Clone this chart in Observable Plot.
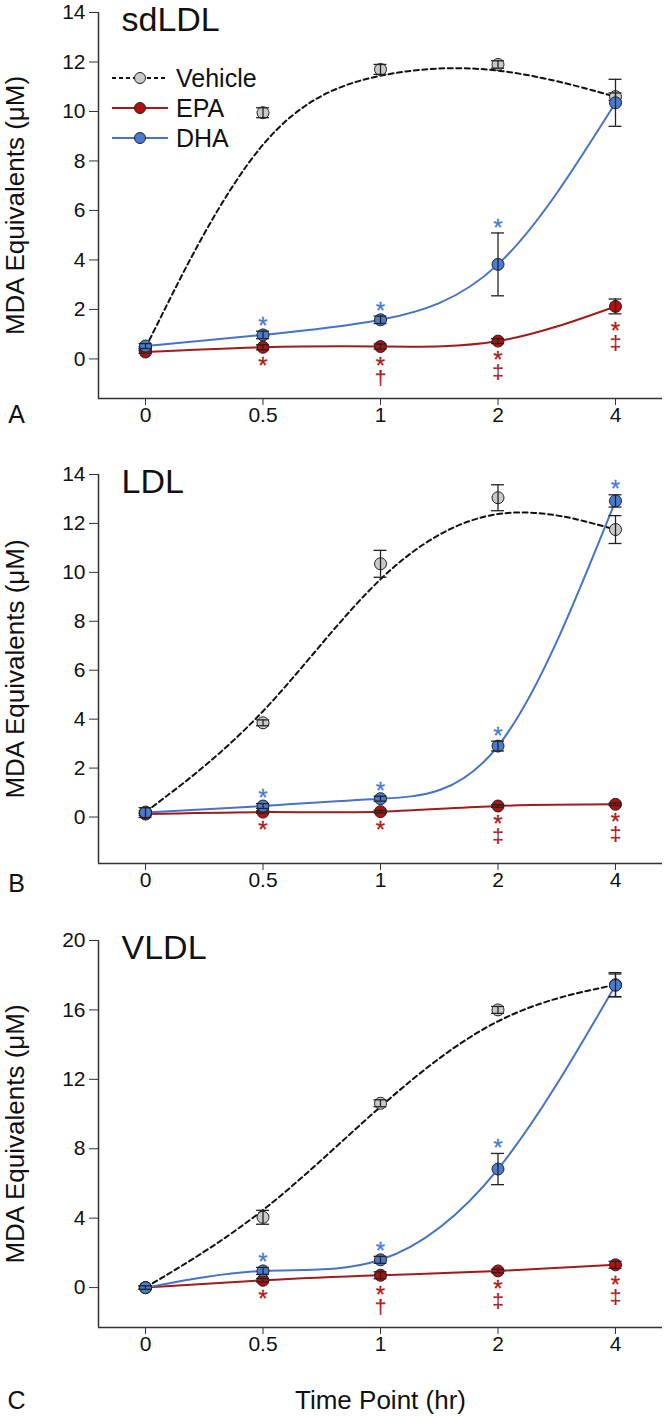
<!DOCTYPE html>
<html><head><meta charset="utf-8">
<script src="https://cdn.jsdelivr.net/npm/d3@7"></script>
<script src="https://cdn.jsdelivr.net/npm/@observablehq/plot@0.6"></script>
<style>
body{margin:0;background:#fff;font-family:"Liberation Sans",Arial,sans-serif;}
#wrap{position:relative;width:664px;height:1417px;overflow:hidden;}
.panel{position:absolute;left:0;}
.leg{position:absolute;left:111px;height:30px;display:flex;align-items:center;font-size:25px;color:#111;font-family:"Liberation Sans",Arial,sans-serif;}
.leg svg{margin-right:7px;}
</style></head><body><div id="wrap"></div>
<script>
// ---- data ----
const timeLabels = ["0", "0.5", "1", "2", "4"];
const seriesNames = ["Vehicle", "EPA", "DHA"];
const panelNames = ["sdLDL", "LDL", "VLDL"];
const panelLetters = ["A", "B", "C"];

// sdLDL
const sdldlVehicle = [0.45, 9.95, 11.7, 11.9, 10.6];
const sdldlVehicleErr = [0.05, 0.2, 0.2, 0.15, 0.15];
const sdldlEPA = [0.28, 0.47, 0.5, 0.72, 2.12];
const sdldlEPAErr = [0.05, 0.1, 0.1, 0.1, 0.3];
const sdldlDHA = [0.52, 0.97, 1.58, 3.82, 10.35];
const sdldlDHAErr = [0.1, 0.15, 0.15, 1.27, 0.95];
const sdldlDHASig = ["", "*", "*", "*", ""];
const sdldlEPASig = ["", "*", "*", "*", "*"];
const sdldlEPASig2 = ["", "", "†", "‡", "‡"];

// LDL
const ldlVehicle = [0.2, 3.85, 10.35, 13.05, 11.75];
const ldlVehicleErr = [0.05, 0.12, 0.55, 0.53, 0.57];
const ldlEPA = [0.12, 0.2, 0.22, 0.45, 0.52];
const ldlEPAErr = [0.05, 0.05, 0.05, 0.05, 0.05];
const ldlDHA = [0.18, 0.45, 0.75, 2.9, 12.92];
const ldlDHAErr = [0.2, 0.1, 0.1, 0.2, 0.25];
const ldlDHASig = ["", "*", "*", "*", "*"];
const ldlEPASig = ["", "*", "*", "*", "*"];
const ldlEPASig2 = ["", "", "", "‡", "‡"];

// VLDL
const vldlVehicle = [0, 4.05, 10.62, 16.0, 17.45];
const vldlVehicleErr = [0.1, 0.4, 0.2, 0.2, 0.7];
const vldlEPA = [0, 0.42, 0.71, 0.96, 1.31];
const vldlEPAErr = [0.05, 0.1, 0.2, 0.1, 0.2];
const vldlDHA = [0, 0.96, 1.6, 6.83, 17.42];
const vldlDHAErr = [0.1, 0.2, 0.2, 0.9, 0.65];
const vldlDHASig = ["", "*", "*", "*", ""];
const vldlEPASig = ["", "*", "*", "*", "*"];
const vldlEPASig2 = ["", "", "†", "‡", "‡"];

const yTicksAB = [0, 2, 4, 6, 8, 10, 12, 14];
const yTicksC = [0, 4, 8, 12, 16, 20];

// ---- styles ----
const FONT = "Liberation Sans, Arial, Helvetica, sans-serif";
const C_VEH = "#c9c9c9", C_EPA = "#b30f0f", C_EPA_LINE = "#a31a1a", C_DHA = "#4a7bd2", C_DHA_LINE = "#4673c8";
const C_STAR_B = "#4a7bd0", C_STAR_R = "#b01818";
const CAP = 0.055;

const panels = [
  {name: panelNames[0], letter: panelLetters[0], top: 0, frameH: 386, mb: 45, yDomain: [-1.6, 14], yTicks: yTicksAB,
   veh: sdldlVehicle, vehE: sdldlVehicleErr, epa: sdldlEPA, epaE: sdldlEPAErr, dha: sdldlDHA, dhaE: sdldlDHAErr,
   dSig: sdldlDHASig, eSig: sdldlEPASig, eSig2: sdldlEPASig2, letterDy: 16, xTitle: false},
  {name: panelNames[1], letter: panelLetters[1], top: 462, frameH: 389, mb: 45, yDomain: [-1.9, 14], yTicks: yTicksAB,
   veh: ldlVehicle, vehE: ldlVehicleErr, epa: ldlEPA, epaE: ldlEPAErr, dha: ldlDHA, dhaE: ldlDHAErr,
   dSig: ldlDHASig, eSig: ldlEPASig, eSig2: ldlEPASig2, letterDy: 20, xTitle: false},
  {name: panelNames[2], letter: panelLetters[2], top: 928, frameH: 387, mb: 90, yDomain: [-2.3, 20], yTicks: yTicksC,
   veh: vldlVehicle, vehE: vldlVehicleErr, epa: vldlEPA, epaE: vldlEPAErr, dha: vldlDHA, dhaE: vldlDHAErr,
   dSig: vldlDHASig, eSig: vldlEPASig, eSig2: vldlEPASig2, letterDy: 73, xTitle: true}
];

function rowsOf(vals, errs, sig, sig2) {
  return vals.map((v, i) => ({i, v, e: errs[i], sig: sig ? sig[i] : "", sig2: sig2 ? sig2[i] : ""}));
}

function errMarks(rows) {
  return [
    Plot.ruleX(rows, {x: "i", y1: d => d.v - d.e, y2: d => d.v + d.e, stroke: "#222", strokeWidth: 1.3}),
    Plot.ruleY(rows, {y: d => d.v + d.e, x1: d => d.i - CAP, x2: d => d.i + CAP, stroke: "#222", strokeWidth: 1.3}),
    Plot.ruleY(rows, {y: d => d.v - d.e, x1: d => d.i - CAP, x2: d => d.i + CAP, stroke: "#222", strokeWidth: 1.3})
  ];
}

const wrap = document.getElementById("wrap");
const xDomain = [-0.4, 4.4];

for (const p of panels) {
  const veh = rowsOf(p.veh, p.vehE);
  const epa = rowsOf(p.epa, p.epaE, p.eSig, p.eSig2);
  const dha = rowsOf(p.dha, p.dhaE, p.dSig);
  const marks = [
    Plot.axisY({ticks: p.yTicks, tickSize: 9, tickPadding: 4, label: null, fontSize: 21, stroke: "#333"}),
    Plot.axisX({ticks: [0, 1, 2, 3, 4], tickFormat: i => timeLabels[i], tickSize: 7, tickPadding: 2, label: null, fontSize: 21, stroke: "#333"}),
    Plot.ruleX([xDomain[0]], {stroke: "#333", strokeWidth: 1.5}),
    Plot.ruleY([p.yDomain[0]], {stroke: "#333", strokeWidth: 1.5}),
    Plot.line(veh, {x: "i", y: "v", curve: "basis", stroke: "#111", strokeWidth: 2, strokeDasharray: "5,3.5"}),
    Plot.line(epa, {x: "i", y: "v", curve: "natural", stroke: C_EPA_LINE, strokeWidth: 2}),
    Plot.line(dha, {x: "i", y: "v", curve: "natural", stroke: C_DHA_LINE, strokeWidth: 2}),
    Plot.dot(veh, {x: "i", y: "v", r: 6, fill: C_VEH, stroke: "#222", strokeWidth: 1}),
    ...errMarks(veh),
    Plot.dot(epa, {x: "i", y: "v", r: 6, fill: C_EPA, stroke: "#222", strokeWidth: 1}),
    ...errMarks(epa),
    Plot.dot(dha, {x: "i", y: "v", r: 6, fill: C_DHA, stroke: "#222", strokeWidth: 1}),
    ...errMarks(dha),
    Plot.text(dha.filter(d => d.sig), {x: "i", y: d => d.v + d.e, text: "sig", dy: -5, fill: C_STAR_B, stroke: C_STAR_B, strokeWidth: 0.3, fontSize: 24}),
    Plot.text(epa.filter(d => d.sig), {x: "i", y: d => d.v - d.e, text: "sig", dy: 17, fill: C_STAR_R, stroke: C_STAR_R, strokeWidth: 0.3, fontSize: 24}),
    Plot.text(epa.filter(d => d.sig2), {x: "i", y: d => d.v - d.e, text: "sig2", dy: 29, fill: C_STAR_R, stroke: C_STAR_R, strokeWidth: 0.2, fontSize: 21}),
    Plot.text([p.name], {frameAnchor: "top-left", dx: 23, dy: -6, fontSize: 34, lineAnchor: "top", textAnchor: "start", fill: "#111"}),
    Plot.text([p.letter], {frameAnchor: "bottom-left", dx: -82, dy: p.letterDy, fontSize: 25, lineAnchor: "middle", textAnchor: "middle", fill: "#111"}),
    Plot.text(["MDA Equivalents (μM)"], {frameAnchor: "left", dx: -83, rotate: -90, fontSize: 26, textAnchor: "middle", lineAnchor: "middle", fill: "#111"})
  ];
  if (p.xTitle) marks.push(Plot.text(["Time Point (hr)"], {frameAnchor: "bottom", dy: 73, fontSize: 26, lineAnchor: "middle", fill: "#111"}));
  const chart = Plot.plot({
    width: 664, height: 12 + p.frameH + p.mb,
    marginLeft: 98, marginRight: 2, marginTop: 12, marginBottom: p.mb,
    x: {type: "linear", domain: xDomain},
    y: {domain: p.yDomain},
    style: {fontFamily: FONT, fontSize: "21px", color: "#111", background: "transparent", overflow: "visible"},
    marks
  });
  chart.classList.add("panel");
  chart.style.top = p.top + "px";
  wrap.appendChild(chart);
}

// legend (panel A, inside plot area)
const legStyles = [
  {fill: C_VEH, stroke: "#111", dash: "4,3"},
  {fill: C_EPA, stroke: C_EPA_LINE, dash: null},
  {fill: C_DHA, stroke: C_DHA_LINE, dash: null}
];
const legTops = [63, 93, 123];
seriesNames.forEach((name, k) => {
  const s = legStyles[k];
  const div = document.createElement("div");
  div.className = "leg";
  div.style.top = legTops[k] + "px";
  div.innerHTML = `<svg width="58" height="20"><line x1="1" y1="10" x2="57" y2="10" stroke="${s.stroke}" stroke-width="2" ${s.dash ? `stroke-dasharray="${s.dash}"` : ""}/><circle cx="29" cy="10" r="5.5" fill="${s.fill}" stroke="#222" stroke-width="1"/></svg><span>${name}</span>`;
  wrap.appendChild(div);
});
</script></body></html>
